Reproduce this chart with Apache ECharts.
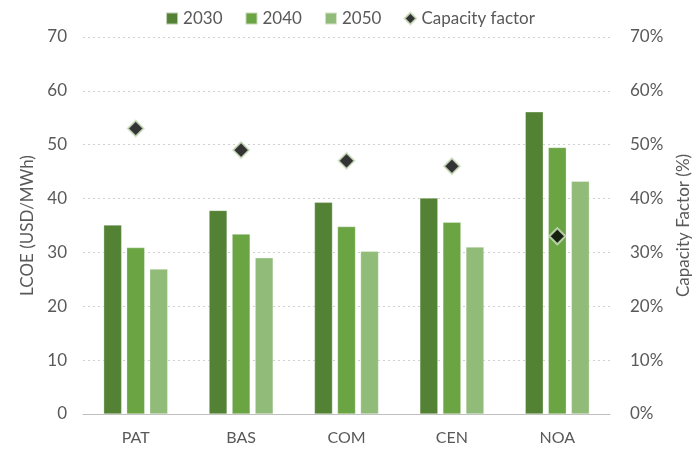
<!DOCTYPE html>
<html>
<head>
<meta charset="utf-8">
<script src="https://cdn.jsdelivr.net/npm/echarts@6/dist/echarts.min.js"></script>
<style>
  html, body { margin: 0; padding: 0; background: #fff; }
  #chart { width: 700px; height: 450px; }
</style>
</head>
<body>
<div id="chart"></div>
<script>
// Regions and LCOE by target year (USD/MWh)
var regions = ['PAT', 'BAS', 'COM', 'CEN', 'NOA'];
var lcoe2030 = [35.1, 37.8, 39.3, 40.1, 56.1];
var lcoe2040 = [30.9, 33.4, 34.8, 35.6, 49.5];
var lcoe2050 = [26.9, 29.0, 30.2, 31.0, 43.2];
// Capacity factor per region (share of 1)
var capacityFactor = [0.53, 0.49, 0.47, 0.46, 0.33];

var FONT = 'Lato, "Open Sans", sans-serif';
var TEXT = '#595959';

function barSeries(name, data, color) {
  return {
    name: name,
    type: 'bar',
    data: data,
    barWidth: 18,
    barGap: '28%',
    itemStyle: { color: color, borderColor: 'rgba(255,255,255,0.6)', borderWidth: 0.5 }
  };
}

var chart = echarts.init(document.getElementById('chart'), null, { renderer: 'canvas' });
chart.setOption({
  animation: false,
  backgroundColor: '#ffffff',
  textStyle: { fontFamily: FONT, color: TEXT },
  legend: {
    top: 5,
    left: 'center',
    itemWidth: 12,
    itemHeight: 12,
    itemGap: 22,
    textStyle: { fontFamily: FONT, fontSize: 17, color: TEXT },
    data: [
      { name: '2030', icon: 'rect' },
      { name: '2040', icon: 'rect' },
      { name: '2050', icon: 'rect' },
      { name: 'Capacity factor', icon: 'diamond' }
    ]
  },
  grid: { left: 83, right: 85, top: 37, bottom: 36 },
  xAxis: {
    type: 'category',
    data: regions,
    axisLine: { lineStyle: { color: '#bfbfbf', width: 1 } },
    axisTick: { show: false },
    axisLabel: { fontFamily: FONT, fontSize: 16, color: TEXT, margin: 16 }
  },
  yAxis: [
    {
      type: 'value',
      min: 0,
      max: 70,
      interval: 10,
      name: 'LCOE (USD/MWh)',
      nameLocation: 'middle',
      nameRotate: 90,
      nameGap: 47,
      nameTextStyle: { fontFamily: FONT, fontSize: 17, color: TEXT },
      axisLine: { show: false },
      axisTick: { show: false },
      axisLabel: { fontFamily: FONT, fontSize: 17, color: TEXT, margin: 16 },
      splitLine: { lineStyle: { color: '#d0d0d0', type: [2, 3], width: 1.2 } }
    },
    {
      type: 'value',
      min: 0,
      max: 0.7,
      interval: 0.1,
      name: 'Capacity Factor (%)',
      nameLocation: 'middle',
      nameRotate: 90,
      nameGap: 65,
      nameTextStyle: { fontFamily: FONT, fontSize: 17, color: TEXT },
      axisLine: { show: false },
      axisTick: { show: false },
      axisLabel: {
        fontFamily: FONT, fontSize: 17, color: TEXT, margin: 20,
        formatter: function (v) { return Math.round(v * 100) + '%'; }
      },
      splitLine: { show: false }
    }
  ],
  series: [
    barSeries('2030', lcoe2030, '#548235'),
    barSeries('2040', lcoe2040, '#6aa443'),
    barSeries('2050', lcoe2050, '#91bb78'),
    {
      name: 'Capacity factor',
      type: 'scatter',
      yAxisIndex: 1,
      data: capacityFactor,
      symbol: 'diamond',
      symbolSize: 16,
      itemStyle: { color: '#000000', borderColor: '#d3e6c6', borderWidth: 2 },
      z: 5
    }
  ]
});
</script>
</body>
</html>
